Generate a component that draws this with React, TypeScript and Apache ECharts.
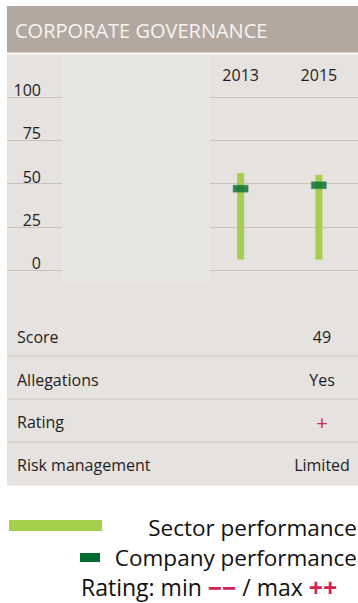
import React, { useEffect, useRef } from "react";
import * as echarts from "echarts";

const title = "CORPORATE GOVERNANCE";
const years = ["2013", "2015"];
const sectorMin = [6, 6];
const sectorMax = [56, 55];
const companyScore = [47, 49];
const rowLabels = ["Score", "Allegations", "Rating", "Risk management"];
const rowValues = ["49", "Yes", "+", "Limited"];
const legendSector = "Sector performance";
const legendCompany = "Company performance";

const FONT = "'Open Sans', 'Noto Sans', sans-serif";
const LIGHT_GREEN = "#a6cf4b";
const DARK_GREEN = "#006b2f";
const RED = "#d0245a";

export default function App() {
  const ref = useRef<HTMLDivElement>(null);
  useEffect(() => {
    if (!ref.current) return;
    const chart = echarts.init(ref.current, undefined, { renderer: "svg" });
    const rowY = [337, 380, 422, 465];
    const lineY = [356, 399, 442];
    const graphic: any[] = [
      { type: "rect", z: 0, shape: { x: 7, y: 6, width: 360, height: 46.5 }, style: { fill: "#b3a89f" } },
      { type: "rect", z: 0, shape: { x: 7, y: 54.5, width: 360, height: 431 }, style: { fill: "#e6e2df" } },
      { type: "rect", z: 4, shape: { x: 62, y: 54.5, width: 148, height: 229 }, style: { fill: "#e8e6e3" } },
      {
        type: "text", z: 10, x: 15, y: 30,
        style: { text: title, fill: "#f6f3f1", font: `20px ${FONT}`, verticalAlign: "middle" },
      },
    ];
    lineY.forEach((y) => {
      graphic.push({ type: "line", z: 5, shape: { x1: 7, y1: y, x2: 360, y2: y }, style: { stroke: "#cec8c3", lineWidth: 1 } });
    });
    rowLabels.forEach((lab, i) => {
      graphic.push({
        type: "text", z: 10, x: 17, y: rowY[i],
        style: { text: lab, fill: "#1e1e1e", font: `16px ${FONT}`, verticalAlign: "middle" },
      });
      const v = rowValues[i];
      graphic.push({
        type: "text", z: 10, x: 322, y: rowY[i],
        style: {
          text: v, fill: v === "+" ? RED : "#1e1e1e",
          font: `${v === "+" ? 20 : 16}px ${FONT}`,
          align: "center", verticalAlign: "middle",
        },
      });
    });
    // legend
    graphic.push(
      { type: "rect", z: 10, shape: { x: 9, y: 520, width: 93, height: 11 }, style: { fill: LIGHT_GREEN } },
      {
        type: "text", z: 10, x: 357, y: 527,
        style: { text: legendSector, fill: "#111", font: `22.5px ${FONT}`, align: "right", verticalAlign: "middle" },
      },
      { type: "rect", z: 10, shape: { x: 80, y: 553, width: 20, height: 9 }, style: { fill: DARK_GREEN } },
      {
        type: "text", z: 10, x: 357, y: 557,
        style: { text: legendCompany, fill: "#111", font: `22.5px ${FONT}`, align: "right", verticalAlign: "middle" },
      },
      {
        type: "text", z: 10, x: 81, y: 587,
        style: {
          text: "{a|Rating: min }{r|−−}{a| / max }{r|++}",
          verticalAlign: "middle",
          rich: {
            a: { fill: "#111", font: `23px ${FONT}`, lineHeight: 26 },
            r: { fill: RED, font: `bold 25px ${FONT}`, lineHeight: 26 },
          },
        },
      }
    );

    const option: any = {
      animation: false,
      graphic,
      grid: [
        { left: 7, width: 360, top: 97, height: 173 },
        { left: 201.5, width: 160, top: 97, height: 173 },
      ],
      xAxis: [
        { type: "value", gridIndex: 0, show: false, min: 0, max: 1 },
        {
          type: "category", gridIndex: 1, data: years, position: "top", z: 3,
          axisLine: { show: false }, axisTick: { show: false },
          axisLabel: { color: "#1e1e1e", fontSize: 16, fontFamily: FONT, margin: 14 },
        },
      ],
      yAxis: [
        {
          type: "value", gridIndex: 0, min: 0, max: 100, interval: 25, z: 3,
          axisLine: { show: false }, axisTick: { show: false },
          splitLine: { show: true, lineStyle: { color: "#c9c3be", width: 1 } },
          axisLabel: {
            color: "#1e1e1e", fontSize: 16, fontFamily: FONT, align: "right",
            verticalAlign: "bottom", margin: -34, lineHeight: 14,
          },
        },
        { type: "value", gridIndex: 1, min: 0, max: 100, show: false },
      ],
      series: [
        {
          type: "bar", xAxisIndex: 1, yAxisIndex: 1, stack: "s", barWidth: 7, z: 6,
          data: sectorMin, itemStyle: { color: "transparent" }, silent: true,
        },
        {
          type: "bar", xAxisIndex: 1, yAxisIndex: 1, stack: "s", barWidth: 7, z: 6,
          data: sectorMax.map((m, i) => m - sectorMin[i]), itemStyle: { color: LIGHT_GREEN },
        },
        {
          type: "scatter", xAxisIndex: 1, yAxisIndex: 1, z: 8,
          symbol: "rect", symbolSize: [15, 7], data: companyScore,
          itemStyle: { color: DARK_GREEN, borderColor: "#3d8a5a", borderWidth: 0.5 },
        },
      ],
    };
    chart.setOption(option);
    return () => chart.dispose();
  }, []);
  return (
    <div
      ref={ref}
      style={{ position: "fixed", left: 0, top: 0, width: 358, height: 603, background: "#fff" }}
    />
  );
}
